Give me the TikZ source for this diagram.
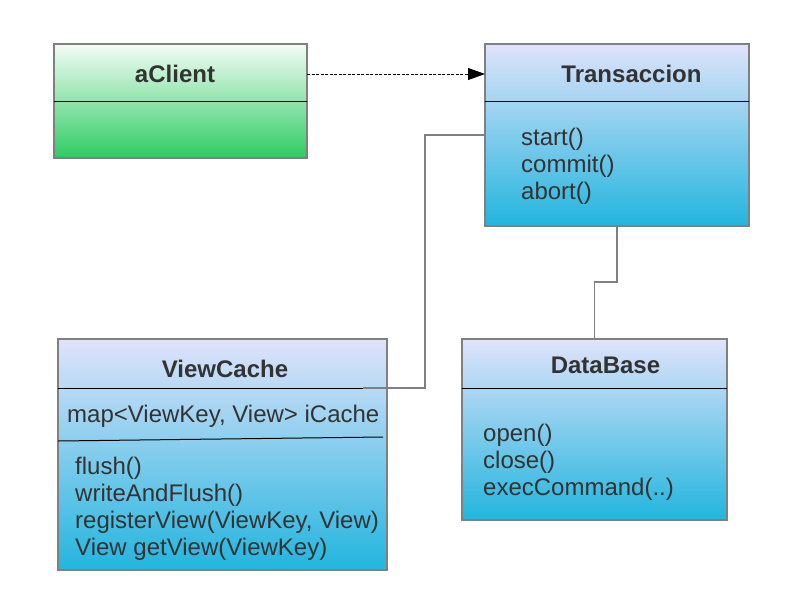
\documentclass[tikz,border=0pt]{standalone}
\usepackage{fontspec}
\setmainfont{Liberation Sans}
\usetikzlibrary{arrows.meta}
\definecolor{txt}{HTML}{333333}
\definecolor{bordergray}{HTML}{808080}
\definecolor{bluetop}{HTML}{E0E3FB}
\definecolor{bluebot}{HTML}{22B5DE}
\definecolor{greentop}{HTML}{F4FCF6}
\definecolor{greenbot}{HTML}{2ECC63}
\tikzset{
  classbox/.style={rectangle, draw=bordergray, line width=1.3pt, inner sep=0pt, outer sep=0pt, anchor=north west},
  bluebox/.style={classbox, top color=bluetop, bottom color=bluebot},
  greenbox/.style={classbox, top color=greentop, bottom color=greenbot},
  divider/.style={draw=black, line width=1pt},
  title/.style={font=\fontsize{24}{27}\selectfont\bfseries, text=txt, anchor=base, inner sep=0pt},
  member/.style={font=\fontsize{24}{27}\selectfont, text=txt, anchor=base west, inner sep=0pt},
  assoc/.style={draw=bordergray, line width=1.3pt},
  dep/.style={draw=black, line width=0.9pt, dash pattern=on 3pt off 1.5pt, -{Triangle[length=17pt,width=12pt]}}
}
\begin{document}
\begin{tikzpicture}[x=1pt,y=-1pt]
\useasboundingbox (0,0) rectangle (790,600);

% boxes
\node[greenbox, minimum width=253pt, minimum height=114pt] (client) at (54,44) {};
\node[bluebox, minimum width=264pt, minimum height=182pt] (trans) at (485,44) {};
\node[bluebox, minimum width=329pt, minimum height=231pt] (vc) at (58,339) {};
\node[bluebox, minimum width=265pt, minimum height=181pt] (db) at (462,339) {};

% dividers
\draw[divider] (54,101) -- (307,101);
\draw[divider] (485,101) -- (749,101);
\draw[divider] (58,388) -- (363,388);
\draw[divider] (58,441) -- (383,437);
\draw[divider] (462,388) -- (727,388);

% titles
\node[title] (tclient) at (175,82) {aClient};
\node[title] (ttrans) at (631.5,82) {Transaccion};
\node[title] (tvc) at (225,377) {ViewCache};
\node[title] (tdb) at (605.5,373) {DataBase};

% Transaccion members
\node[member] (m1) at (521,145) {start()};
\node[member] (m2) at (521,172) {commit()};
\node[member] (m3) at (521,199) {abort()};

% ViewCache members
\node[member] (a1) at (67,422) {map<ViewKey, View> iCache};
\node[member] (v1) at (75,474) {flush()};
\node[member] (v2) at (75,501) {writeAndFlush()};
\node[member] (v3) at (75,528) {registerView(ViewKey, View)};
\node[member] (v4) at (75,555) {View getView(ViewKey)};

% DataBase members
\node[member] (d1) at (483,441) {open()};
\node[member] (d2) at (483,468) {close()};
\node[member] (d3) at (483,495) {execCommand(..)};

% connectors
\coordinate (ca) at ([yshift=27pt]client.east);
\draw[dep] (ca) -- (ca -| trans.west);
\coordinate (vcin) at (363,388);
\draw[assoc] (trans.west) -- ++(-60,0) |- (vcin);
\draw[assoc] (trans.south) -- ++(0,56) -| (db.north);
\end{tikzpicture}
\end{document}
